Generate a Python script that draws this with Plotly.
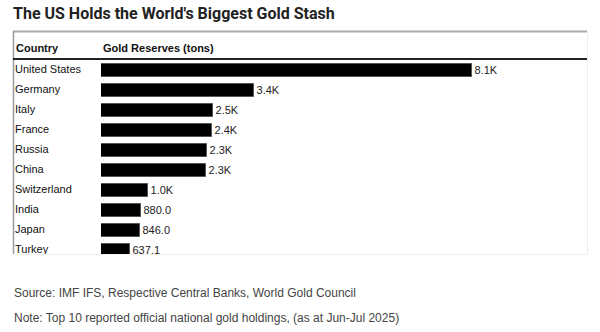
import plotly.graph_objects as go

countries = ["United States", "Germany", "Italy", "France", "Russia", "China",
             "Switzerland", "India", "Japan", "Turkey"]
reserves = [8133.5, 3351.5, 2451.8, 2437.0, 2329.6, 2298.5, 1039.9, 880.0, 846.0, 637.1]

title_text = "The US Holds the World's Biggest Gold Stash"
header_country = "Country"
header_value = "Gold Reserves (tons)"
source_text = "Source: IMF IFS, Respective Central Banks, World Gold Council"
note_text = "Note: Top 10 reported official national gold holdings, (as at Jun-Jul 2025)"


def fmt(v):
    return f"{v/1000:.1f}K" if v >= 1000 else f"{v:.1f}"


labels = [fmt(v) for v in reserves]

W, H = 600, 332


def px_x(p):
    return p / W


def px_y(p):
    return 1 - p / H


BODY = "Liberation Sans, Arial, sans-serif"

fig = go.Figure()

fig.add_trace(go.Bar(
    x=reserves, y=countries, orientation="h",
    marker=dict(color="#000000", line=dict(color="#555555", width=1)),
    width=0.66,
    text=labels, textposition="outside", cliponaxis=True,
    textfont=dict(family=BODY, size=11, color="#222222"),
    hoverinfo="skip", xaxis="x", yaxis="y",
))

fig.add_trace(go.Scatter(
    x=[0] * len(countries), y=countries, mode="text",
    text=countries, textposition="middle right",
    textfont=dict(family=BODY, size=11, color="#111111"),
    cliponaxis=True, hoverinfo="skip", xaxis="x2", yaxis="y",
))

# table row area between header line (60px) and bottom frame (254px); 20px per row
top_px, bot_px = 60, 254
row_px = 20
span = (bot_px - top_px) / row_px
first_off = 10.5 / row_px

fig.update_layout(
    width=W, height=H, margin=dict(l=0, r=0, t=0, b=0),
    paper_bgcolor="white", plot_bgcolor="rgba(0,0,0,0)",
    showlegend=False, bargap=0,
    xaxis=dict(domain=[px_x(101), px_x(587)], range=[0, 10650], visible=False, fixedrange=True),
    xaxis2=dict(domain=[px_x(15), px_x(100)], range=[0, 1], visible=False, fixedrange=True),
    yaxis=dict(domain=[px_y(bot_px), px_y(top_px)], type="category",
               categoryorder="array", categoryarray=countries,
               range=[span - first_off, -first_off], visible=False, fixedrange=True),
    font=dict(family=BODY),
)

shapes = [
    # frame
    dict(type="line", xref="paper", yref="paper", x0=px_x(13), x1=px_x(587),
         y0=px_y(31.5), y1=px_y(31.5), line=dict(color="#aaaaaa", width=2)),
    dict(type="line", xref="paper", yref="paper", x0=px_x(13.5), x1=px_x(13.5),
         y0=px_y(31), y1=px_y(254), line=dict(color="#999999", width=1.5)),
    dict(type="line", xref="paper", yref="paper", x0=px_x(587.5), x1=px_x(587.5),
         y0=px_y(31), y1=px_y(254.5), line=dict(color="#eeeeee", width=1)),
    dict(type="line", xref="paper", yref="paper", x0=px_x(13), x1=px_x(588),
         y0=px_y(254.5), y1=px_y(254.5), line=dict(color="#eeeeee", width=1)),
    # header rule
    dict(type="line", xref="paper", yref="paper", x0=px_x(13), x1=px_x(587),
         y0=px_y(59), y1=px_y(59), line=dict(color="#222222", width=2)),
]
fig.update_layout(shapes=shapes)

ann = [
    dict(text=f"<b>{title_text}</b>", x=px_x(11), y=px_y(14), xanchor="left", yanchor="middle",
         font=dict(family="Roboto, sans-serif", size=16, color="#222222")),
    dict(text=f"<b>{header_country}</b>", x=px_x(14), y=px_y(47.5), xanchor="left", yanchor="middle",
         font=dict(family=BODY, size=11, color="#111111")),
    dict(text=f"<b>{header_value}</b>", x=px_x(101), y=px_y(47.5), xanchor="left", yanchor="middle",
         font=dict(family=BODY, size=11, color="#111111")),
    dict(text=source_text, x=px_x(12), y=px_y(293), xanchor="left", yanchor="middle",
         font=dict(family=BODY, size=12, color="#444444")),
    dict(text=note_text, x=px_x(12), y=px_y(318), xanchor="left", yanchor="middle",
         font=dict(family=BODY, size=12, color="#444444")),
]
for a in ann:
    a.update(xref="paper", yref="paper", showarrow=False)
fig.update_layout(annotations=ann)

fig.write_html("out.html", config={"displayModeBar": False})
